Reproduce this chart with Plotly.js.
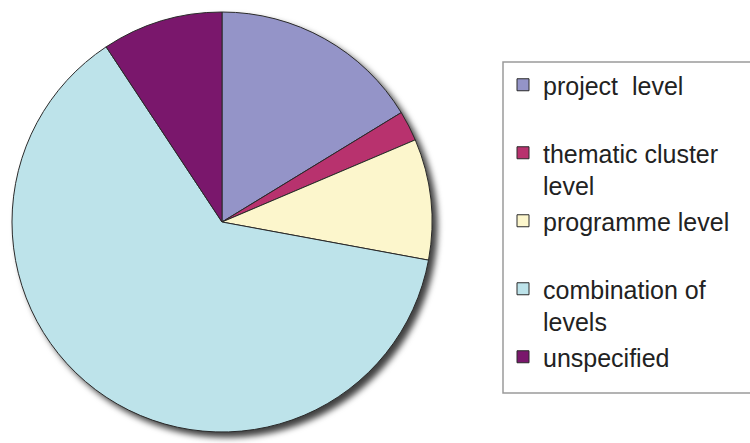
<!DOCTYPE html>
<html>
<head>
<meta charset="utf-8">
<script src="https://cdn.plot.ly/plotly-3.0.1.min.js"></script>
<style>
  html, body { margin: 0; padding: 0; background: #ffffff; }
  #chart { width: 750px; height: 443px; }
  #chart .pielayer .trace { filter: drop-shadow(5px 5px 3px rgba(0,0,0,0.75)); }
</style>
</head>
<body>
<div id="chart"></div>
<script>
// Categories (legend labels, with line breaks as in the reference legend)
const categories = [
  "project  level<br> ",
  "thematic cluster<br>level",
  "programme level<br> ",
  "combination of<br>levels",
  "unspecified"
];
// Slice values (counts)
const values = [7, 1, 4, 27, 4];
// Slice colours
const colors = ["#9494C8", "#B8326E", "#FCF6CC", "#BDE3EA", "#7A176C"];

const W = 750, H = 443;
const cx = 222, cy = 222, r = 210;

const trace = {
  type: "pie",
  labels: categories,
  values: values,
  sort: false,
  direction: "clockwise",
  rotation: 0,
  textinfo: "none",
  hoverinfo: "label+percent",
  marker: { colors: colors, line: { color: "#2a2a2a", width: 1 } },
  domain: {
    x: [(cx - r) / W, (cx + r) / W],
    y: [1 - (cy + r) / H, 1 - (cy - r) / H]
  }
};

const layout = {
  width: W,
  height: H,
  margin: { l: 0, r: 0, t: 0, b: 0, autoexpand: false },
  paper_bgcolor: "#ffffff",
  plot_bgcolor: "#ffffff",
  showlegend: true,
  legend: {
    x: 503 / W, y: 1 - 62 / H,
    xanchor: "left", yanchor: "top",
    bgcolor: "rgba(0,0,0,0)",
    borderwidth: 0,
    valign: "top",
    maxheight: 420,
    font: { family: "Liberation Sans, Arial, sans-serif", size: 25, color: "#222222" }
  },
  shapes: [{
    type: "rect", xref: "paper", yref: "paper",
    x0: 503 / W, x1: 1.02, y0: 1 - 393 / H, y1: 1 - 62 / H,
    line: { color: "#9a9a9a", width: 1.5 },
    fillcolor: "rgba(0,0,0,0)",
    layer: "below"
  }]
};

Plotly.newPlot("chart", [trace], layout, { displayModeBar: false, staticPlot: true });
</script>
</body>
</html>
